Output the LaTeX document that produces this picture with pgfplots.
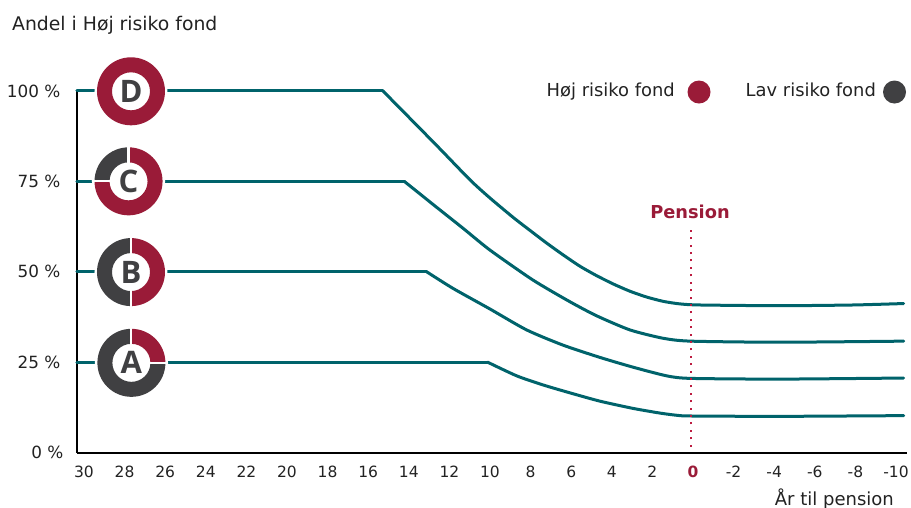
\documentclass[border=0pt]{standalone}
\usepackage{pgfplots}
\pgfplotsset{compat=1.18}
\usepackage{fontspec}
\setmainfont{DejaVu Sans}
\newfontfamily\letterfont{Open Sans}
\definecolor{hred}{HTML}{9A1B38}
\definecolor{ldark}{HTML}{404042}
\definecolor{teal2}{HTML}{00636B}
\definecolor{txt}{HTML}{222222}
\definecolor{dotred}{HTML}{BC1C40}
\newcommand{\donutsec}[3]{%
  \pgfsetfillcolor{#3}%
  \pgfpathmoveto{\pgfpointpolar{#1}{34bp}}%
  \pgfpatharc{#1}{#2}{34bp}%
  \pgfpathlineto{\pgfpointpolar{#2}{19bp}}%
  \pgfpatharc{#2}{#1}{19bp}%
  \pgfpathclose\pgfusepath{fill}}
\newcommand{\donutgap}[1]{%
  \pgfsetstrokecolor{white}\pgfsetlinewidth{2.2bp}%
  \pgfpathmoveto{\pgfpointpolar{#1}{17bp}}%
  \pgfpathlineto{\pgfpointpolar{#1}{36bp}}\pgfusepath{stroke}}
\newcommand{\donuthalo}{\pgfsetfillcolor{white}\pgfpathcircle{\pgfpointorigin}{36.5bp}\pgfusepath{fill}}
\newcommand{\donutletter}[1]{\pgftext{\color{ldark}\letterfont\fontsize{31bp}{31bp}\selectfont\bfseries #1}}
\pgfdeclareplotmark{donutA}{\donuthalo\donutsec{90}{0}{hred}\donutsec{0}{-270}{ldark}\donutgap{90}\donutgap{0}\donutletter{A}}
\pgfdeclareplotmark{donutB}{\donuthalo\donutsec{90}{-90}{hred}\donutsec{-90}{-270}{ldark}\donutgap{90}\donutgap{-90}\donutletter{B}}
\pgfdeclareplotmark{donutC}{\donuthalo\donutsec{90}{-180}{hred}\donutsec{-180}{-270}{ldark}\donutgap{90}\donutgap{180}\donutletter{C}}
\pgfdeclareplotmark{donutD}{\donuthalo\donutsec{90}{-270}{hred}\donutletter{D}}
\pgfdeclareplotmark{dotH}{\pgfsetfillcolor{hred}\pgfpathcircle{\pgfpointorigin}{11.5bp}\pgfusepath{fill}}
\pgfdeclareplotmark{dotL}{\pgfsetfillcolor{ldark}\pgfpathcircle{\pgfpointorigin}{11.5bp}\pgfusepath{fill}}
\begin{document}
\begin{tikzpicture}[x=1bp,y=1bp]
\path[use as bounding box] (0,0) rectangle (911,-508);
\begin{axis}[
  at={(77bp,-452.5bp)}, anchor=south west,
  scale only axis, width=829.5bp, height=363bp,
  x dir=reverse,
  xmin=-10.64, xmax=30.22, ymin=0, ymax=100.4,
  axis lines=left, axis line style={black, line width=2bp, -},
  clip=false,
  major tick length=0pt, tick style={draw=none},
  xtick={30,28,...,-10},
  xticklabels={30,28,26,24,22,20,18,16,14,12,10,8,6,4,2,{\textbf{\color{hred}0}},-2,-4,-6,-8,-10},
  ytick={0,25,50,75,100},
  yticklabels={{0 \%\kern-3bp},25 \%,50 \%,75 \%,100 \%},
  /pgf/number format/assume math mode=true,
  xticklabel style={font=\fontsize{15.5bp}{15.5bp}\selectfont, text=txt, anchor=base, inner sep=0pt, yshift=-24.5bp, xshift=2.5bp},
  yticklabel style={font=\fontsize{16.8bp}{16.8bp}\selectfont, text=txt, anchor=east, inner sep=0pt, xshift=-16.5bp, yshift=0bp},
  every axis plot/.append style={line join=round, line cap=round},
]
% flat parts
\addplot[teal2, line width=3bp, no markers] coordinates {(30.22,25) (10.0,25)};
\addplot[teal2, line width=3bp, no markers] coordinates {(30.22,50) (13.0,50)};
\addplot[teal2, line width=3bp, no markers] coordinates {(30.22,75) (14.1,75)};
\addplot[teal2, line width=3bp, no markers] coordinates {(30.22,100) (15.15,100)};
% glide paths
\addplot[teal2, line width=3bp, no markers, smooth, tension=0.4] coordinates {
 (10.0,25) (8.56,21.2) (7.27,18.7) (5.94,16.5) (4.46,14.2) (2.83,12.2) (1.5,10.9) (0.68,10.3) (0,10.1) (-4.4,10.0) (-10.5,10.2)};
\addplot[teal2, line width=3bp, no markers, smooth, tension=0.4] coordinates {
 (13.0,50) (11.7,45.4) (9.88,39.7) (8.07,33.9) (6.28,29.7) (4.46,26.3) (2.83,23.6) (1.17,21.2) (0,20.5) (-4.4,20.3) (-10.5,20.6)};
\addplot[teal2, line width=3bp, no markers, smooth, tension=0.4] coordinates {
 (14.1,75) (12.5,67.8) (11.2,62) (9.88,56) (7.76,47.7) (5.94,41.7) (4.62,37.8) (2.98,33.9) (1.35,31.6) (0,30.8) (-4.4,30.5) (-10.5,30.8)};
\addplot[teal2, line width=3bp, no markers, smooth, tension=0.4] coordinates {
 (15.15,100) (12.5,84.9) (10.86,75.4) (9.88,70.4) (8.73,65) (7.9,61.4) (7.08,57.9) (6.26,54.6) (5.44,51.5) (4.62,48.9) (3.8,46.6) (2.98,44.6) (2.16,43.0) (1.34,41.8) (0.52,41.1) (-0.47,40.8) (-4.4,40.6) (-8,40.8) (-10.5,41.2)};
\addplot[dotred, line width=2bp, no markers, line cap=butt, dash pattern=on 2bp off 5.41bp] coordinates {(0,1.6) (0,61.6)};
\addplot[only marks, mark=donutA] coordinates {(27.54,24.8)};
\addplot[only marks, mark=donutB] coordinates {(27.56,49.9)};
\addplot[only marks, mark=donutC] coordinates {(27.68,75)};
\addplot[only marks, mark=donutD] coordinates {(27.56,99.9)};
\addplot[only marks, mark=dotH] coordinates {(-0.42,99.7)};
\addplot[only marks, mark=dotL] coordinates {(-10.05,99.7)};
\end{axis}
\node[anchor=base west, inner sep=0pt, text=txt, font=\fontsize{18.8bp}{18.8bp}\selectfont] at (12,-31) {Andel i Høj risiko fond};
\node[anchor=base west, inner sep=0pt, text=txt, font=\fontsize{17.9bp}{17.9bp}\selectfont] at (546.5,-97) {Høj risiko fond};
\node[anchor=base west, inner sep=0pt, text=txt, font=\fontsize{17.9bp}{17.9bp}\selectfont] at (745.5,-97) {Lav risiko fond};
\node[anchor=base, inner sep=0pt, text=hred, font=\fontsize{17.8bp}{17.8bp}\selectfont\bfseries] at (690,-218.3) {Pension};
\node[anchor=base east, inner sep=0pt, text=txt, font=\fontsize{18bp}{18bp}\selectfont] at (894,-505) {År til pension};
\end{tikzpicture}
\end{document}
